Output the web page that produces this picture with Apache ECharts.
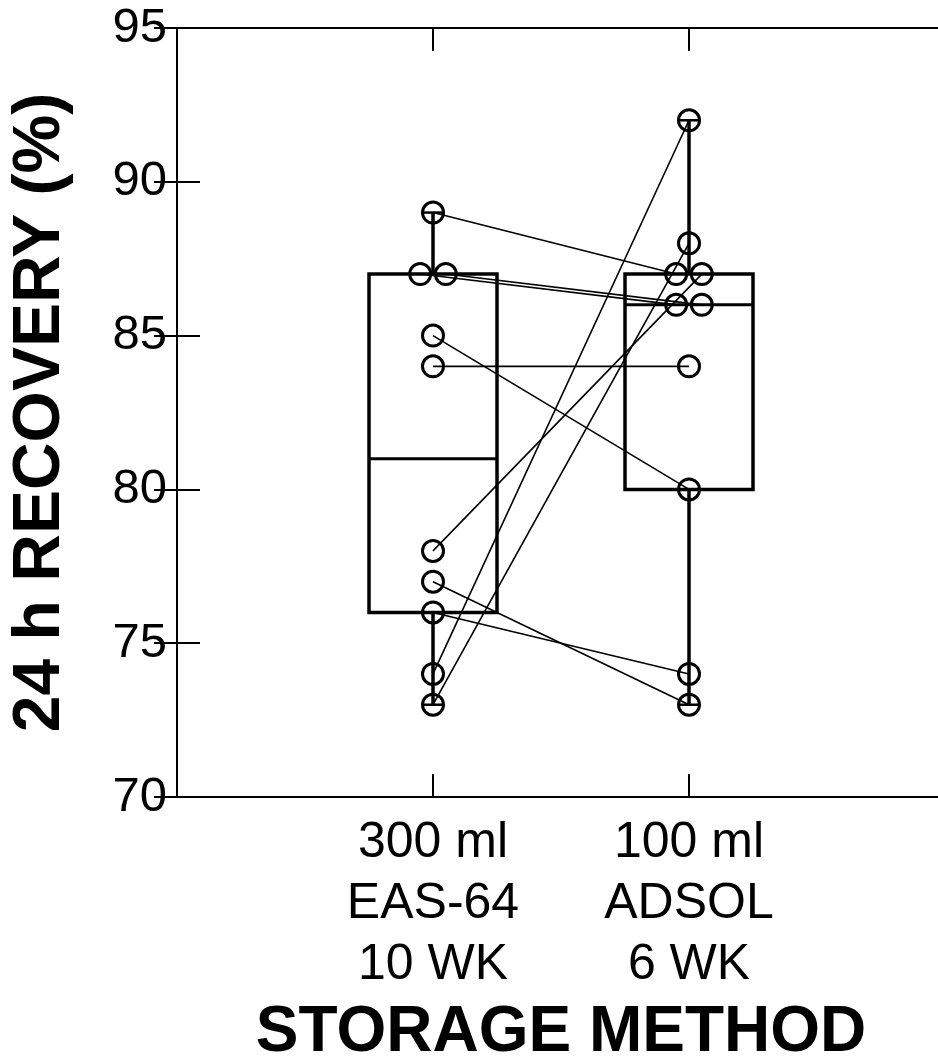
<!DOCTYPE html>
<html>
<head>
<meta charset="utf-8">
<script src="https://cdn.jsdelivr.net/npm/echarts@6/dist/echarts.min.js"></script>
<style>
html,body{margin:0;padding:0;background:#fff;}
#chart{width:938px;height:1062px;}
</style>
</head>
<body>
<div id="chart"></div>
<script>
// ---- data ----
const categories = ['300 ml\nEAS-64\n10 WK', '100 ml\nADSOL\n6 WK'];
const yTicks = [70, 75, 80, 85, 90, 95];
// paired recoveries per unit (same index = same donor)
const easValues   = [89, 87, 87, 85, 84, 78, 77, 76, 74, 73];
const adsolValues = [87, 86, 86, 80, 84, 87, 73, 74, 92, 88];
// box summaries: min, q1, median, q3, max
const easBox   = [73, 76, 81, 87, 89];
const adsolBox = [73, 80, 86, 87, 92];
const yTitle = '24 h RECOVERY (%)';
const xTitle = 'STORAGE METHOD';

// ---- build ----
const FONT = '"Liberation Sans", Arial, Helvetica, sans-serif';
function jitter(vals) {
  const counts = {}, seen = {};
  vals.forEach(v => counts[v] = (counts[v] || 0) + 1);
  return vals.map(v => {
    const k = seen[v] || 0; seen[v] = k + 1;
    return (k - (counts[v] - 1) / 2) * 0.1;
  });
}
const easOff = jitter(easValues), adsolOff = jitter(adsolValues);
const pts1 = easValues.map((v, i) => [1 + easOff[i], v]);
const pts2 = adsolValues.map((v, i) => [2 + adsolOff[i], v]);
const pairData = easValues.map((v, i) => [pts1[i][0], v, pts2[i][0], adsolValues[i]]);
const boxData = [easBox, adsolBox].map((b, i) => [i + 1].concat(b));
const xLabels = ['', categories[0], categories[1], ''];

const chart = echarts.init(document.getElementById('chart'), null, {renderer: 'canvas'});
const axisCommon = {
  type: 'value',
  axisLine: {show: true, lineStyle: {color: '#000', width: 2}},
  axisTick: {show: true, inside: true, length: 23, lineStyle: {color: '#000', width: 2}},
  splitLine: {show: false},
  minorTick: {show: false}
};
chart.setOption({
  animation: false,
  backgroundColor: '#fff',
  grid: {left: 177, top: 28, width: 768, height: 769, outerBoundsMode: 'none', containLabel: false},
  xAxis: [
    Object.assign({}, axisCommon, {
      position: 'bottom', min: 0, max: 3, interval: 1,
      axisLabel: {show: true, margin: 16, color: '#000', fontSize: 50, fontFamily: FONT, lineHeight: 61,
        formatter: v => xLabels[Math.round(v)] || ''},
      name: xTitle, nameLocation: 'middle', nameGap: 203,
      nameTextStyle: {color: '#000', fontSize: 64, fontWeight: 'bold', fontFamily: FONT}
    }),
    Object.assign({}, axisCommon, {position: 'top', min: 0, max: 3, interval: 1, axisLabel: {show: false}})
  ],
  yAxis: [
    Object.assign({}, axisCommon, {
      position: 'left', min: yTicks[0], max: yTicks[yTicks.length - 1], interval: yTicks[1] - yTicks[0],
      axisLabel: {show: true, margin: 10, color: '#000', fontSize: 49, fontFamily: FONT, padding: [6, 0, 0, 0]},
      name: yTitle, nameLocation: 'middle', nameGap: 103, nameRotate: 90,
      nameTextStyle: {color: '#000', fontSize: 66, fontWeight: 'bold', fontFamily: FONT}
    }),
    Object.assign({}, axisCommon, {position: 'right', min: yTicks[0], max: yTicks[yTicks.length - 1], interval: yTicks[1] - yTicks[0], axisLabel: {show: false}})
  ],
  series: [
    {
      type: 'custom', silent: true, clip: false,
      encode: {x: 0, y: [1, 2, 3, 4, 5]},
      data: boxData,
      renderItem: function (params, api) {
        const x = api.value(0);
        const mn = api.value(1), q1 = api.value(2), md = api.value(3), q3 = api.value(4), mx = api.value(5);
        const pL = api.coord([x - 0.25, q3]), pR = api.coord([x + 0.25, q1]);
        const med = api.coord([x, md]);
        const top = api.coord([x, mx]), bot = api.coord([x, mn]);
        const cx = api.coord([x, q3])[0];
        const bs = {stroke: '#000', lineWidth: 3.5, fill: null};
        return {type: 'group', children: [
          {type: 'rect', shape: {x: pL[0], y: pL[1], width: pR[0] - pL[0], height: pR[1] - pL[1]}, style: bs},
          {type: 'line', shape: {x1: pL[0], y1: med[1], x2: pR[0], y2: med[1]}, style: {stroke: '#000', lineWidth: 3}},
          {type: 'line', shape: {x1: cx, y1: pL[1], x2: cx, y2: top[1]}, style: {stroke: '#000', lineWidth: 3.5}},
          {type: 'line', shape: {x1: cx, y1: pR[1], x2: cx, y2: bot[1]}, style: {stroke: '#000', lineWidth: 3.5}},
          {type: 'line', shape: {x1: cx - 11, y1: top[1], x2: cx + 11, y2: top[1]}, style: {stroke: '#000', lineWidth: 2.5}},
          {type: 'line', shape: {x1: cx - 11, y1: bot[1], x2: cx + 11, y2: bot[1]}, style: {stroke: '#000', lineWidth: 2.5}}
        ]};
      }
    },
    {
      type: 'custom', silent: true, clip: false,
      encode: {x: [0, 2], y: [1, 3]},
      data: pairData,
      renderItem: function (params, api) {
        const a = api.coord([api.value(0), api.value(1)]);
        const b = api.coord([api.value(2), api.value(3)]);
        return {type: 'line', shape: {x1: a[0], y1: a[1], x2: b[0], y2: b[1]}, style: {stroke: '#000', lineWidth: 1.6}};
      }
    },
    {
      type: 'scatter', silent: true, symbol: 'circle', symbolSize: 21,
      data: pts1.concat(pts2),
      itemStyle: {color: 'rgba(0,0,0,0)', borderColor: '#000', borderWidth: 3, opacity: 1},
      emphasis: {disabled: true}
    }
  ]
});
</script>
</body>
</html>
